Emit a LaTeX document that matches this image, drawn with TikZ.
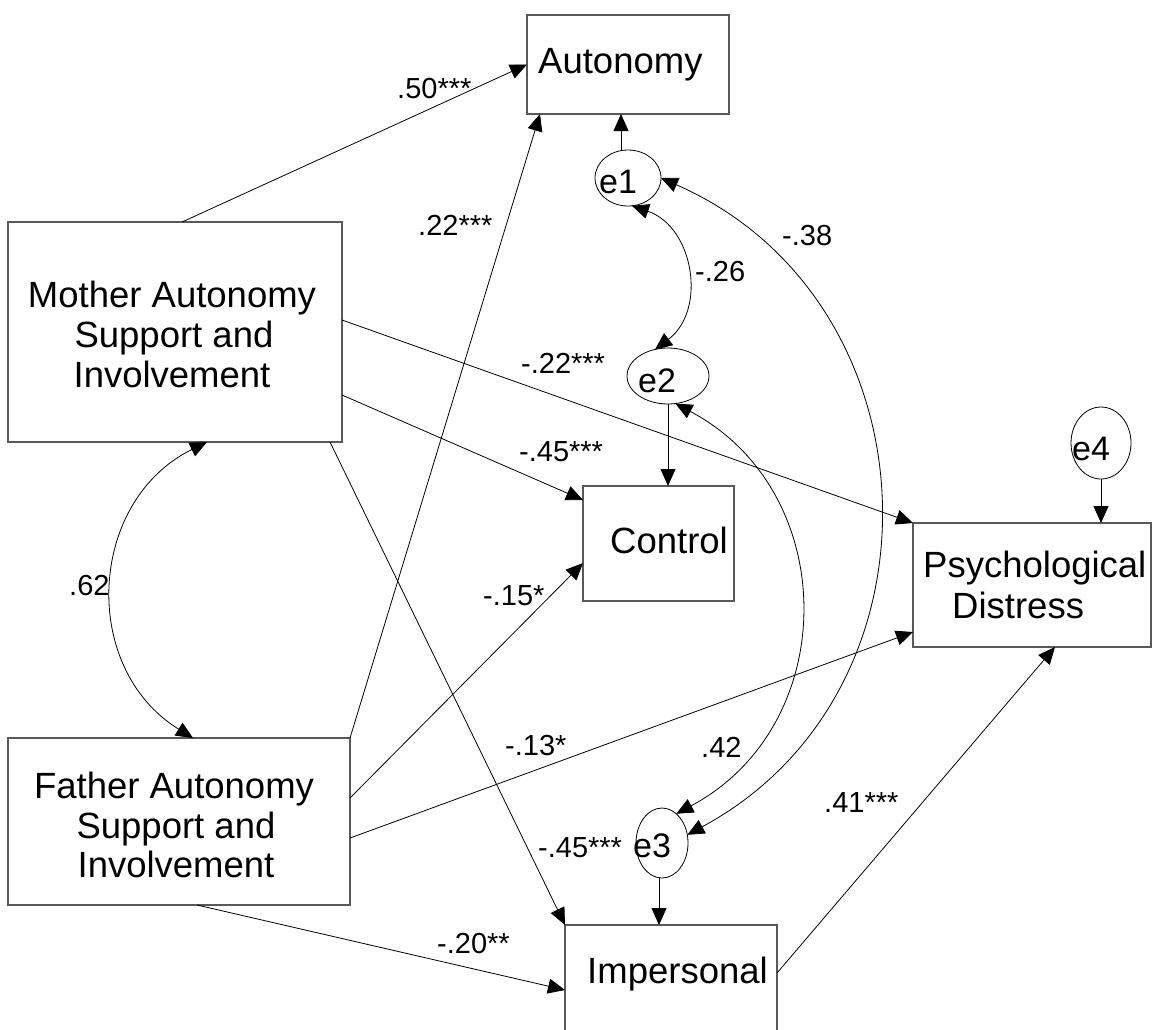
\documentclass[tikz,border=0pt]{standalone}
\usepackage{fontspec}
\setmainfont{Liberation Sans}
\usetikzlibrary{arrows.meta,shapes.geometric}
\begin{document}
\begin{tikzpicture}[x=1pt,y=-1pt,
  box/.style={draw=black!65,line width=1.3pt,rectangle,inner sep=0pt,outer sep=0pt},
  err/.style={draw=black,line width=0.8pt,ellipse,inner sep=0pt,outer sep=0pt},
  txt/.style={inner sep=0pt,anchor=base west,font=\fontsize{36.5}{40}\selectfont},
  ctxt/.style={inner sep=0pt,anchor=base,font=\fontsize{36.5}{40}\selectfont},
  etxt/.style={inner sep=0pt,anchor=base west,font=\fontsize{34}{38}\selectfont},
  coef/.style={inner sep=0pt,anchor=base west,font=\fontsize{29}{33}\selectfont},
  tip/.tip={Triangle[length=17pt,width=15pt]},
  reg/.style={draw=black,line width=0.8pt,-tip},
  cov/.style={draw=black,line width=0.8pt,tip-tip}
]
\clip (0,0) rectangle (1153,1029);
\fill[white] (0,0) rectangle (1153,1029);

% observed variables
\node[box,minimum width=202pt,minimum height=99pt]  (auto)    at (628,64.5)  {};
\node[box,minimum width=334pt,minimum height=220pt] (mother)  at (175,332)   {};
\node[box,minimum width=342pt,minimum height=167pt] (father)  at (179,821.5) {};
\node[box,minimum width=151pt,minimum height=115pt] (control) at (658.5,543.5) {};
\node[box,minimum width=238pt,minimum height=124pt] (psych)   at (1032,585)  {};
\node[box,minimum width=212pt,minimum height=120pt] (imp)     at (671,985)   {};

% residuals
\node[err,minimum width=66pt,minimum height=56pt] (e1) at (628,178)  {};
\node[err,minimum width=82pt,minimum height=56pt] (e2) at (668,376)  {};
\node[err,minimum width=52pt,minimum height=70pt] (e3) at (662,843)  {};
\node[err,minimum width=60pt,minimum height=72pt] (e4) at (1101,443) {};

% box texts
\node[txt]  (tauto) at (538,73)  {Autonomy};
\node[ctxt] (tm1)   at (172,307) {Mother Autonomy};
\node[ctxt] (tm2)   at (174,347) {Support and};
\node[ctxt] (tm3)   at (172,387) {Involvement};
\node[ctxt] (tf1)   at (174,798) {Father Autonomy};
\node[ctxt] (tf2)   at (176,838) {Support and};
\node[ctxt] (tf3)   at (176,877) {Involvement};
\node[txt]  (tctl)  at (610,553) {Control};
\node[txt]  (tps1)  at (923,577) {Psychological};
\node[txt]  (tps2)  at (952,618) {Distress};
\node[txt]  (timp)  at (587,983) {Impersonal};

% residual names
\node[etxt] (te1) at (599,193)  {e1};
\node[etxt] (te2) at (638,392)  {e2};
\node[etxt] (te3) at (633,857)  {e3};
\node[etxt] (te4) at (1072,460) {e4};

% regression paths
\draw[reg] ([xshift=7pt]mother.north) -- (auto.west);
\draw[reg] (father.north east) -- ([xshift=-88pt]auto.south);
\draw[reg] ([yshift=12pt]mother.east) -- (psych.north west);
\draw[reg] ([yshift=-63pt]mother.east) -- ([yshift=-14pt]control.north west);
\draw[reg] ([xshift=-12pt]mother.south east) -- (imp.north west);
\draw[reg] ([yshift=-60pt]father.north east) -- ([yshift=38pt]control.south west);
\draw[reg] ([yshift=-16.5pt]father.east) -- ([yshift=15pt]psych.south west);
\draw[reg] ([xshift=18pt]father.south) -- ([yshift=-65pt]imp.north west);
\draw[reg] ([yshift=-48pt]imp.north east) -- ([xshift=23pt]psych.south);

% residual paths
\draw[reg] ([xshift=-7pt]e1.north) -- ([xshift=-7pt]auto.south);
\draw[reg] (e2.south) -- (e2.south |- control.north);
\draw[reg] ([xshift=-3pt]e3.south) -- ([xshift=-12pt]imp.north);
\draw[reg] (e4.south) -- (e4.south |- psych.north);

% covariances
\draw[cov] ([xshift=32pt]mother.south) to[bend right=61,looseness=1.15] ([xshift=14pt]father.north);
\draw[cov] (e1.-82) to[bend left=62,looseness=1.15] (e2.116);
\draw[cov] (e1.east) to[bend left=64,looseness=1.18] (e3.18);
\draw[cov] (e2.-75) to[bend left=62,looseness=1.17] (e3.64);

% coefficients
\node[coef] (c50)  at (397,98)  {.50***};
\node[coef] (c22)  at (418,235) {.22***};
\node[coef] (c38)  at (782,245) {-.38};
\node[coef] (c26)  at (695,281) {-.26};
\node[coef] (cm22) at (521,373) {-.22***};
\node[coef] (cm45) at (519,461) {-.45***};
\node[coef] (c62)  at (69,595)  {.62};
\node[coef] (cm15) at (483,605) {-.15*};
\node[coef] (cm13) at (505,755) {-.13*};
\node[coef] (c42)  at (701,757) {.42};
\node[coef] (c41)  at (824,812) {.41***};
\node[coef] (ci45) at (538,857) {-.45***};
\node[coef] (cm20) at (437,953) {-.20**};
\end{tikzpicture}
\end{document}
